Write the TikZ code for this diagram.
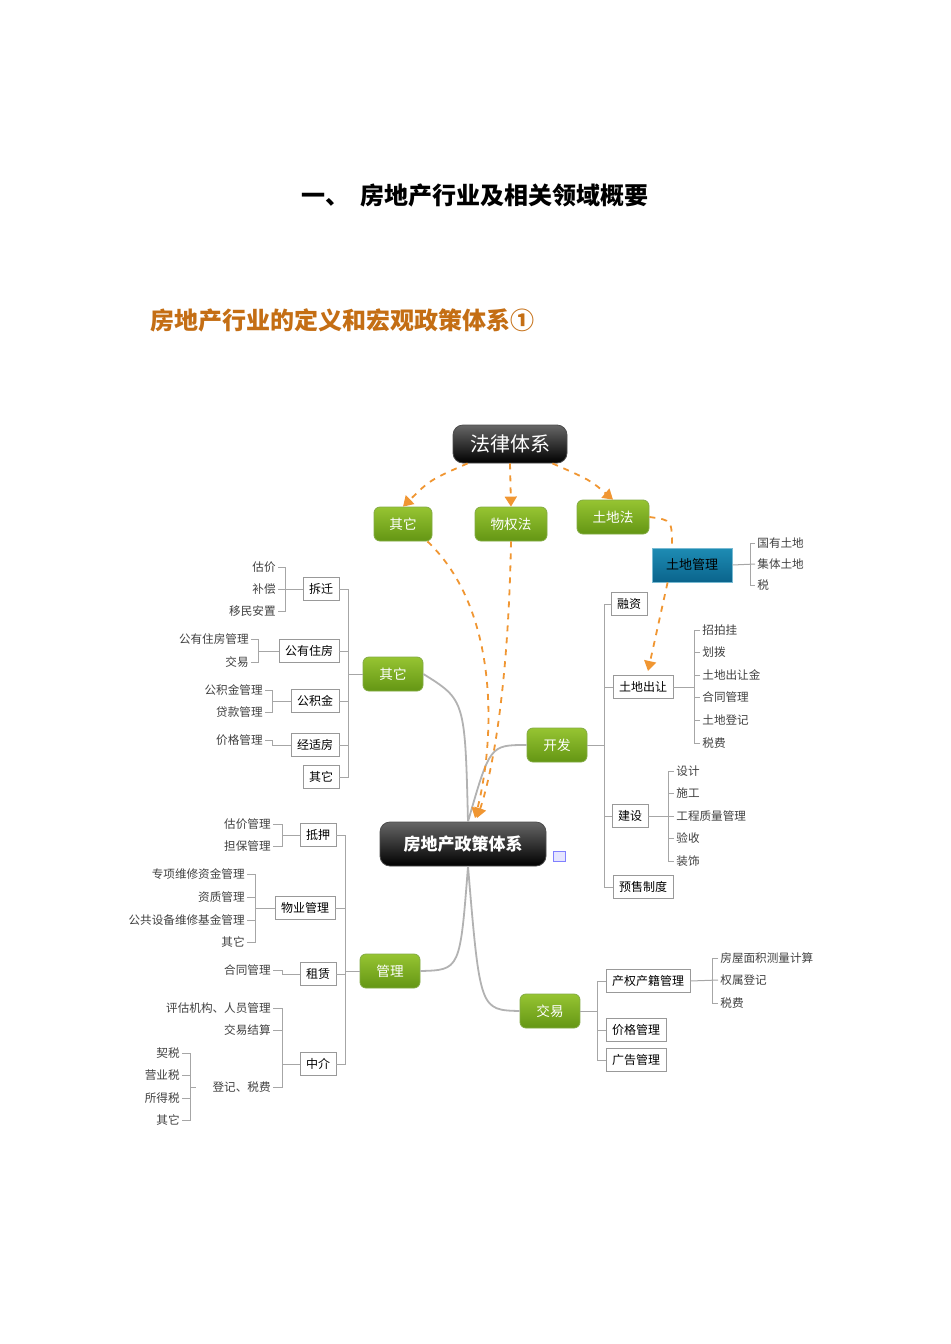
\documentclass[tikz,border=0pt]{standalone}
\usepackage{fontspec}
\newfontfamily\cjk{Noto Sans CJK SC}
\usetikzlibrary{arrows.meta}
\definecolor{ttl}{RGB}{196,110,20}
\definecolor{gtop}{RGB}{150,196,50}
\definecolor{gbot}{RGB}{100,150,20}
\definecolor{btop}{RGB}{30,140,180}
\definecolor{bbot}{RGB}{10,100,140}
\definecolor{orng}{RGB}{240,150,50}
\begin{document}
\begin{tikzpicture}[x=0.5pt,y=-0.5pt,font=\cjk,
 green/.style={rounded corners=3pt,top color=gtop,bottom color=gbot,draw=gbot!80!white,text=white,font=\cjk\fontsize{6.8}{7}\selectfont,minimum height=17pt,inner xsep=6pt},
 dark/.style={rounded corners=5pt,top color=black!60,bottom color=black,draw=black!70,text=white,inner xsep=8pt},
 sbox/.style={draw=black!40,fill=white,font=\cjk\fontsize{6}{7}\selectfont,minimum height=11.5pt,inner xsep=3pt,inner ysep=1pt},
 leaf/.style={font=\cjk\fontsize{5.8}{7}\selectfont,text=black!75,inner sep=1pt},
 ln/.style={draw=black!35,line width=0.5pt},
 cv/.style={draw=black!30,line width=0.9pt},
 od/.style={draw=orng,dashed,line width=0.9pt,-{Triangle[length=5pt,width=6pt]}}]
\useasboundingbox (0,0) rectangle (950,1344);
\node[font=\cjk\bfseries\fontsize{12}{14}\selectfont] (t1) at (475,195) {一、\ \ 房地产行业及相关领域概要};
\node[font=\cjk\bfseries\fontsize{12}{14}\selectfont,text=ttl,anchor=west] (t2) at (143,320) {房地产行业的定义和宏观政策体系①};
% main nodes
\node[dark,font=\cjk\fontsize{10}{12}\selectfont,minimum width=57pt,minimum height=19pt] (law) at (510,444) {法律体系};
\node[dark,font=\cjk\bfseries\fontsize{8.5}{10}\selectfont,minimum width=83pt,minimum height=22pt] (ctr) at (463,844) {房地产政策体系};
\node[draw=blue!50,fill=blue!10,minimum width=6pt,minimum height=5pt,inner sep=0pt] (ico) at (559,856) {};
\node[green,minimum width=29pt] (qt1) at (403,524) {其它};
\node[green,minimum width=36pt] (wqf) at (511,524) {物权法};
\node[green,minimum width=36pt] (tdf) at (613,517) {土地法};
\node[rounded corners=0pt,top color=btop,bottom color=bbot,draw=btop!60!white,font=\cjk\fontsize{6.5}{7}\selectfont,minimum width=40pt,minimum height=17pt] (tdgl) at (692,565) {土地管理};
\node[green,minimum width=30pt] (qt2) at (393,674) {其它};
\node[green,minimum width=30pt] (kf) at (557,745) {开发};
\node[green,minimum width=30pt] (gl) at (390,971) {管理};
\node[green,minimum width=30pt] (jy) at (550,1011) {交易};
% curves
\draw[cv] (ctr.north)++(5,0) coordinate (c1) .. controls (465,700) .. (qt2.east);
\draw[cv] (c1) .. controls (490,745) .. (kf.west);
\draw[cv] (ctr.south)++(5,0) coordinate (c2) .. controls (460,970) .. (gl.east);
\draw[cv] (c2) .. controls (480,1010) .. (jy.west);
% orange
\draw[od] (law.south west)++(15,0) .. controls (430,480) .. (qt1.north);
\draw[od] (law.south) -- (wqf.north);
\draw[od] (law.south east)++(-15,0) .. controls (590,480) .. (tdf.north);
\draw[od,-] (tdf.east) .. controls (672,520) .. (tdgl.north west -| 672,547);
\draw[od] (tdgl.south west)++(16,0) -- (648,671);
\draw[od] (qt1.south east)++(-5,0) .. controls (500,610) and (495,740) .. (475,818);
\draw[od] (wqf.south) .. controls (508,700) and (490,780) .. (477,818);
% land mgmt leaves
\foreach \t/\y/\n in {国有土地/543/a,集体土地/564/b,税/585/c}
  \node[leaf,anchor=west] (L\n) at (755,\y) {\t};
\draw[ln] (La.west) -- (750,543) -- (750,585) -- (Lc.west);
\draw[ln] (tdgl.east) -- (Lb.west);
% ---- left 其它
\node[sbox] (cq) at (321,589) {拆迁};
\node[sbox] (gyzf) at (309,651) {公有住房};
\node[sbox] (gjj) at (315,701) {公积金};
\node[sbox] (jsf) at (315,745) {经适房};
\node[sbox] (qt3) at (321,777) {其它};
\draw[ln] (cq.east) -- (348,589) -- (348,777) -- (qt3.east);
\foreach \b in {gyzf,gjj,jsf} \draw[ln] (\b.east) -- (\b.east -| 348,0);
\draw[ln] (qt2.west) -- (348,674);
\foreach \t/\y/\n in {估价/567/a,补偿/589/b,移民安置/611/c}
  \node[leaf,anchor=east] (A\n) at (278,\y) {\t};
\draw[ln] (Aa.east) -- (285,567) -- (285,611) -- (Ac.east); \draw[ln] (Ab.east) -- (cq.west);
\foreach \t/\y/\n in {公有住房管理/639/a,交易/662/b}
  \node[leaf,anchor=east] (B\n) at (251,\y) {\t};
\draw[ln] (Ba.east) -- (258,639) -- (258,662) -- (Bb.east); \draw[ln] (258,651) -- (gyzf.west);
\foreach \t/\y/\n in {公积金管理/690/a,贷款管理/712/b}
  \node[leaf,anchor=east] (C\n) at (265,\y) {\t};
\draw[ln] (Ca.east) -- (272,690) -- (272,712) -- (Cb.east); \draw[ln] (272,701) -- (gjj.west);
\node[leaf,anchor=east] (D) at (265,740) {价格管理};
\draw[ln] (D.east) -- (272,740) -- (272,745) -- (jsf.west);
% ---- 管理
\node[sbox] (dy) at (318,835) {抵押};
\node[sbox] (wygl) at (305,908) {物业管理};
\node[sbox] (zl) at (318,974) {租赁};
\node[sbox] (zj) at (318,1064) {中介};
\draw[ln] (dy.east) -- (345,835) -- (345,1064) -- (zj.east);
\foreach \b in {wygl,zl} \draw[ln] (\b.east) -- (\b.east -| 345,0);
\draw[ln] (gl.west) -- (345,971);
\foreach \t/\y/\n in {估价管理/824/a,担保管理/846/b}
  \node[leaf,anchor=east] (E\n) at (273,\y) {\t};
\draw[ln] (Ea.east) -- (282,824) -- (282,846) -- (Eb.east); \draw[ln] (282,835) -- (dy.west);
\foreach \t/\y/\n in {专项维修资金管理/874/a,资质管理/897/b,公共设备维修基金管理/920/c,其它/942/d}
  \node[leaf,anchor=east] (F\n) at (247,\y) {\t};
\draw[ln] (Fa.east) -- (255,874) -- (255,942) -- (Fd.east);
\draw[ln] (Fb.east) -- (255,897); \draw[ln] (Fc.east) -- (255,920); \draw[ln] (255,908) -- (wygl.west);
\node[leaf,anchor=east] (G) at (273,970) {合同管理};
\draw[ln] (G.east) -- (282,970) -- (282,974) -- (zl.west);
\foreach \t/\y/\n in {评估机构、人员管理/1008/a,交易结算/1030/b,登记、税费/1087/c}
  \node[leaf,anchor=east] (H\n) at (273,\y) {\t};
\draw[ln] (Ha.east) -- (282,1008) -- (282,1087) -- (Hc.east); \draw[ln] (Hb.east) -- (282,1030); \draw[ln] (282,1064) -- (zj.west);
\foreach \t/\y/\n in {契税/1053/a,营业税/1075/b,所得税/1098/c,其它/1120/d}
  \node[leaf,anchor=east] (I\n) at (182,\y) {\t};
\draw[ln] (Ia.east) -- (190,1053) -- (190,1120) -- (Id.east);
\draw[ln] (Ib.east) -- (190,1075); \draw[ln] (Ic.east) -- (190,1098); \draw[ln] (190,1087) -- (196,1087);
% ---- 开发
\node[sbox] (rz) at (629,604) {融资};
\node[sbox] (tdcr) at (643,687) {土地出让};
\node[sbox] (js) at (630,816) {建设};
\node[sbox] (yszd) at (643,887) {预售制度};
\draw[ln] (rz.west) -- (604,604) -- (604,887) -- (yszd.west);
\foreach \b in {tdcr,js} \draw[ln] (\b.west) -- (\b.west -| 604,0);
\draw[ln] (kf.east) -- (604,745);
\foreach \t/\y/\n in {招拍挂/630/a,划拨/652/b,土地出让金/675/c,合同管理/697/d,土地登记/720/e,税费/743/f}
  \node[leaf,anchor=west] (J\n) at (700,\y) {\t};
\draw[ln] (Ja.west) -- (694,630) -- (694,743) -- (Jf.west);
\foreach \n in {b,c,d,e} \draw[ln] (J\n.west) -- (J\n.west -| 694,0);
\draw[ln] (tdcr.east) -- (694,687);
\foreach \t/\y/\n in {设计/771/a,施工/793/b,工程质量管理/816/c,验收/838/d,装饰/861/e}
  \node[leaf,anchor=west] (K\n) at (674,\y) {\t};
\draw[ln] (Ka.west) -- (668,771) -- (668,861) -- (Ke.west);
\foreach \n in {b,c,d} \draw[ln] (K\n.west) -- (K\n.west -| 668,0);
\draw[ln] (js.east) -- (668,816);
% ---- 交易
\node[sbox] (cqcj) at (648,981) {产权产籍管理};
\node[sbox] (jggl) at (636,1030) {价格管理};
\node[sbox] (gggl) at (636,1060) {广告管理};
\draw[ln] (cqcj.west) -- (597,981) -- (597,1060) -- (gggl.west);
\draw[ln] (jggl.west) -- (597,1030);
\draw[ln] (jy.east) -- (597,1011);
\foreach \t/\y/\n in {房屋面积测量计算/958/a,权属登记/980/b,税费/1003/c}
  \node[leaf,anchor=west] (M\n) at (718,\y) {\t};
\draw[ln] (Ma.west) -- (712,958) -- (712,1003) -- (Mc.west);
\draw[ln] (cqcj.east) -- (Mb.west);
\end{tikzpicture}
\end{document}
